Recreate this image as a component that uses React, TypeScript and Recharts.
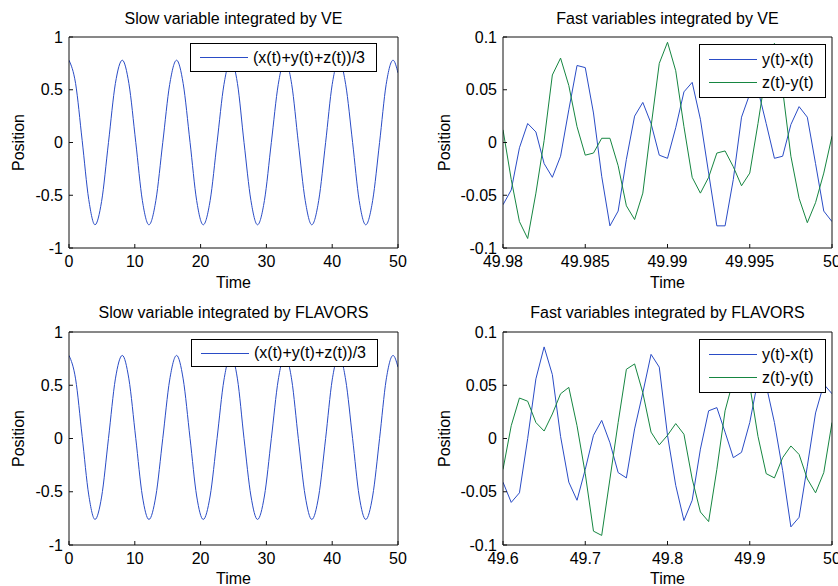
import { LineChart, Line, XAxis, YAxis, Legend } from "recharts";

// slow variable (x+y+z)/3
const slowTime = [
  0, 1.0, 2.0, 3.0, 3.95, 4.95, 6.0, 7.05, 8.1, 9.1, 10.15, 11.15, 12.15, 13.2,
  14.25, 15.3, 16.35, 17.35, 18.4, 19.4, 20.4, 21.45, 22.5, 23.55, 24.6, 25.6,
  26.6, 27.65, 28.65, 29.7, 30.75, 31.8, 32.8, 33.85, 34.85, 35.9, 36.9, 37.95,
  39.0, 40.0, 41.05, 42.05, 43.1, 44.1, 45.1, 46.15, 47.2, 48.2, 49.25, 50,
];
const slowVE = [
  0.78, 0.56, 0.02, -0.54, -0.78, -0.56, 0.0, 0.56, 0.78, 0.56, 0.0, -0.55,
  -0.78, -0.55, 0.0, 0.55, 0.78, 0.56, 0.0, -0.55, -0.78, -0.55, 0.0, 0.55,
  0.78, 0.56, 0.0, -0.55, -0.78, -0.55, 0.0, 0.55, 0.78, 0.55, 0.0, -0.55,
  -0.78, -0.55, 0.0, 0.55, 0.78, 0.55, 0.0, -0.55, -0.78, -0.55, 0.0, 0.55,
  0.78, 0.66,
];
const slowFlavors = [
  0.78, 0.56, 0.02, -0.53, -0.76, -0.55, 0.0, 0.56, 0.78, 0.56, 0.0, -0.54,
  -0.76, -0.54, 0.0, 0.55, 0.78, 0.56, 0.0, -0.54, -0.76, -0.54, 0.0, 0.55,
  0.78, 0.56, 0.0, -0.54, -0.76, -0.54, 0.0, 0.55, 0.78, 0.55, 0.0, -0.54,
  -0.76, -0.54, 0.0, 0.55, 0.78, 0.55, 0.0, -0.54, -0.76, -0.54, 0.0, 0.55,
  0.78, 0.67,
];

// fast variables, VE run (last 0.02 time units)
const veTime = [
  49.98, 49.9805, 49.981, 49.9815, 49.982, 49.9825, 49.983, 49.9835, 49.984,
  49.9845, 49.985, 49.9855, 49.986, 49.9865, 49.987, 49.9875, 49.988, 49.9885,
  49.989, 49.9895, 49.99, 49.9905, 49.991, 49.9915, 49.992, 49.9925, 49.993,
  49.9935, 49.994, 49.9945, 49.995, 49.9955, 49.996, 49.9965, 49.997, 49.9975,
  49.998, 49.9985, 49.999, 49.9995, 50,
];
const veYX = [
  -0.059, -0.045, -0.005, 0.018, 0.01, -0.02, -0.033, -0.013, 0.031, 0.073,
  0.071, 0.028, -0.032, -0.079, -0.065, -0.016, 0.025, 0.038, 0.018, -0.012,
  -0.015, 0.014, 0.048, 0.057, 0.022, -0.029, -0.079, -0.079, -0.035, 0.024,
  0.046, 0.05, 0.018, -0.015, -0.013, 0.017, 0.034, 0.024, -0.02, -0.065,
  -0.075,
];
const veZY = [
  0.012, -0.035, -0.075, -0.091, -0.048, 0.002, 0.064, 0.08, 0.054, 0.015,
  -0.012, -0.01, 0.004, 0.004, -0.022, -0.06, -0.073, -0.048, 0.015, 0.075,
  0.095, 0.068, 0.015, -0.033, -0.048, -0.033, -0.01, -0.008, -0.023, -0.041,
  -0.029, 0.018, 0.068, 0.094, 0.05, -0.013, -0.053, -0.076, -0.057, -0.029,
  0.006,
];

// fast variables, FLAVORS run (last 0.4 time units)
const flTime = [
  49.6, 49.61, 49.62, 49.63, 49.64, 49.65, 49.66, 49.67, 49.68, 49.69, 49.7,
  49.71, 49.72, 49.73, 49.74, 49.75, 49.76, 49.77, 49.78, 49.79, 49.8, 49.81,
  49.82, 49.83, 49.84, 49.85, 49.86, 49.87, 49.88, 49.89, 49.9, 49.91, 49.92,
  49.93, 49.94, 49.95, 49.96, 49.97, 49.98, 49.99, 50,
];
const flYX = [
  -0.041, -0.06, -0.051, 0.0, 0.056, 0.086, 0.06, 0.002, -0.041, -0.058,
  -0.029, 0.003, 0.017, -0.004, -0.032, -0.037, 0.009, 0.043, 0.079, 0.067,
  0.003, -0.044, -0.077, -0.058, -0.01, 0.026, 0.029, 0.006, -0.018, -0.013,
  0.015, 0.055, 0.05, 0.015, -0.03, -0.083, -0.074, -0.026, 0.024, 0.051,
  0.042,
];
const flZY = [
  -0.029, 0.012, 0.038, 0.035, 0.015, 0.007, 0.023, 0.042, 0.048, 0.012,
  -0.033, -0.087, -0.091, -0.038, 0.015, 0.065, 0.07, 0.043, 0.006, -0.006,
  0.003, 0.014, 0.004, -0.038, -0.069, -0.078, -0.029, 0.026, 0.055, 0.065,
  0.05, 0.002, -0.033, -0.037, -0.018, -0.007, -0.015, -0.038, -0.051, -0.032,
  0.015,
];

const slowXTicks = [0, 10, 20, 30, 40, 50];
const slowYTicks = [-1, -0.5, 0, 0.5, 1];
const fastYTicks = [-0.1, -0.05, 0, 0.05, 0.1];
const veXTicks = [49.98, 49.985, 49.99, 49.995, 50];
const flXTicks = [49.6, 49.7, 49.8, 49.9, 50];

const BLUE = "#2a4cc6";
const GREEN = "#168641";
const INK = "#111";
const FONT = 16;

type Series = { key: string; name: string; color: string };

function BoxLegend({ payload, w, h }: any) {
  const rows = payload ?? [];
  const pad = (h - 2 - rows.length * 23) / 2;
  return (
    <div
      style={{
        boxSizing: "border-box",
        width: w,
        height: h,
        border: "1px solid #000",
        background: "#fff",
        paddingTop: pad,
        fontSize: FONT,
        color: "#000",
      }}
    >
      {rows.map((p: any) => (
        <div key={p.value} style={{ display: "flex", alignItems: "center", height: 23 }}>
          <span
            style={{
              display: "inline-block",
              width: 48,
              marginLeft: 9,
              marginRight: 5,
              borderTop: `1px solid ${p.color}`,
            }}
          />
          <span>{p.value}</span>
        </div>
      ))}
    </div>
  );
}

type PanelProps = {
  left: number;
  top: number;
  plotTop: number;
  right: number;
  leftPad: number;
  xHeight: number;
  title: string;
  titleOffset: number;
  timeOffset: number;
  posOffset: number;
  rows: any[];
  series: Series[];
  curve: "monotone" | "linear";
  xDomain: [number, number];
  xTicks: number[];
  yDomain: [number, number];
  yTicks: number[];
  legend: { x: number; y: number; w: number; h: number };
};

function Panel(p: PanelProps) {
  const axis = {
    type: "number" as const,
    allowDataOverflow: true,
    interval: 0 as const,
    stroke: INK,
    tickSize: -4,
  };
  return (
    <div style={{ position: "absolute", left: p.left, top: p.top }}>
      <LineChart
        width={419}
        height={293}
        data={p.rows}
        margin={{ top: 0, right: p.right, bottom: 0, left: p.leftPad }}
      >
        <XAxis
          {...axis}
          xAxisId="b"
          dataKey="t"
          domain={p.xDomain}
          ticks={p.xTicks}
          height={p.xHeight}
          tickMargin={12}
          tick={{ fill: "#000", fontSize: FONT }}
          label={{ value: "Time", position: "insideBottom", offset: p.timeOffset, fill: "#000", fontSize: FONT }}
        />
        {/* mirrored top axis: inward ticks and the panel title */}
        <XAxis
          {...axis}
          xAxisId="t"
          orientation="top"
          dataKey="t"
          domain={p.xDomain}
          ticks={p.xTicks}
          height={p.plotTop}
          tick={false}
          label={{ value: p.title, position: "insideBottom", offset: p.titleOffset, fill: "#000", fontSize: FONT }}
        />
        <YAxis
          {...axis}
          yAxisId="l"
          domain={p.yDomain}
          ticks={p.yTicks}
          width={60}
          tickMargin={10}
          tick={{ fill: "#000", fontSize: FONT }}
          label={{
            value: "Position",
            angle: -90,
            position: "insideLeft",
            offset: p.posOffset,
            fill: "#000",
            fontSize: FONT,
            style: { textAnchor: "middle" },
          }}
        />
        <YAxis
          {...axis}
          yAxisId="r"
          orientation="right"
          domain={p.yDomain}
          ticks={p.yTicks}
          width={1}
          tick={false}
        />
        <Legend
          layout="horizontal"
          verticalAlign="middle"
          align="center"
          wrapperStyle={{ left: p.legend.x, top: p.legend.y, width: p.legend.w, height: p.legend.h }}
          content={(lp: any) => <BoxLegend payload={lp.payload} w={p.legend.w} h={p.legend.h} />}
        />
        {p.series.map((s) => (
          <Line
            key={s.key}
            xAxisId="b"
            yAxisId="l"
            type={p.curve}
            dataKey={s.key}
            name={s.name}
            stroke={s.color}
            strokeWidth={1}
            dot={false}
            activeDot={false}
            isAnimationActive={false}
          />
        ))}
      </LineChart>
    </div>
  );
}

export default function App() {
  const slowRows = slowTime.map((t, i) => ({ t, ve: slowVE[i], fl: slowFlavors[i] }));
  const veRows = veTime.map((t, i) => ({ t, yx: veYX[i], zy: veZY[i] }));
  const flRows = flTime.map((t, i) => ({ t, yx: flYX[i], zy: flZY[i] }));

  const slowName = "(x(t)+y(t)+z(t))/3";
  const fastSeries: Series[] = [
    { key: "yx", name: "y(t)-x(t)", color: BLUE },
    { key: "zy", name: "z(t)-y(t)", color: GREEN },
  ];

  return (
    <div
      style={{
        position: "absolute",
        left: 0,
        top: 0,
        width: 838,
        height: 586,
        overflow: "hidden",
        background: "#fff",
        fontFamily: "'Liberation Sans', Arial, sans-serif",
      }}
    >
      <Panel
        left={0}
        top={0}
        plotTop={37}
        right={20}
        leftPad={9}
        xHeight={45}
        title="Slow variable integrated by VE"
        titleOffset={13}
        timeOffset={5}
        posOffset={9}
        rows={slowRows}
        series={[{ key: "ve", name: slowName, color: BLUE }]}
        curve="monotone"
        xDomain={[0, 50]}
        xTicks={slowXTicks}
        yDomain={[-1, 1]}
        yTicks={slowYTicks}
        legend={{ x: 190, y: 43, w: 187, h: 29 }}
      />
      <Panel
        left={419}
        top={0}
        plotTop={37}
        right={5}
        leftPad={24}
        xHeight={45}
        title="Fast variables integrated by VE"
        titleOffset={13}
        timeOffset={5}
        posOffset={1}
        rows={veRows}
        series={fastSeries}
        curve="linear"
        xDomain={[49.98, 50]}
        xTicks={veXTicks}
        yDomain={[-0.1, 0.1]}
        yTicks={fastYTicks}
        legend={{ x: 280, y: 44, w: 127, h: 54 }}
      />
      <Panel
        left={0}
        top={293}
        plotTop={39}
        right={20}
        leftPad={9}
        xHeight={41}
        title="Slow variable integrated by FLAVORS"
        titleOffset={14}
        timeOffset={2}
        posOffset={9}
        rows={slowRows.map((r) => ({ t: r.t, ve: r.fl }))}
        series={[{ key: "ve", name: slowName, color: BLUE }]}
        curve="monotone"
        xDomain={[0, 50]}
        xTicks={slowXTicks}
        yDomain={[-1, 1]}
        yTicks={slowYTicks}
        legend={{ x: 191, y: 46, w: 187, h: 28 }}
      />
      <Panel
        left={419}
        top={293}
        plotTop={39}
        right={5}
        leftPad={24}
        xHeight={41}
        title="Fast variables integrated by FLAVORS"
        titleOffset={14}
        timeOffset={2}
        posOffset={1}
        rows={flRows}
        series={fastSeries}
        curve="linear"
        xDomain={[49.6, 50]}
        xTicks={flXTicks}
        yDomain={[-0.1, 0.1]}
        yTicks={fastYTicks}
        legend={{ x: 280, y: 46, w: 127, h: 54 }}
      />
    </div>
  );
}
